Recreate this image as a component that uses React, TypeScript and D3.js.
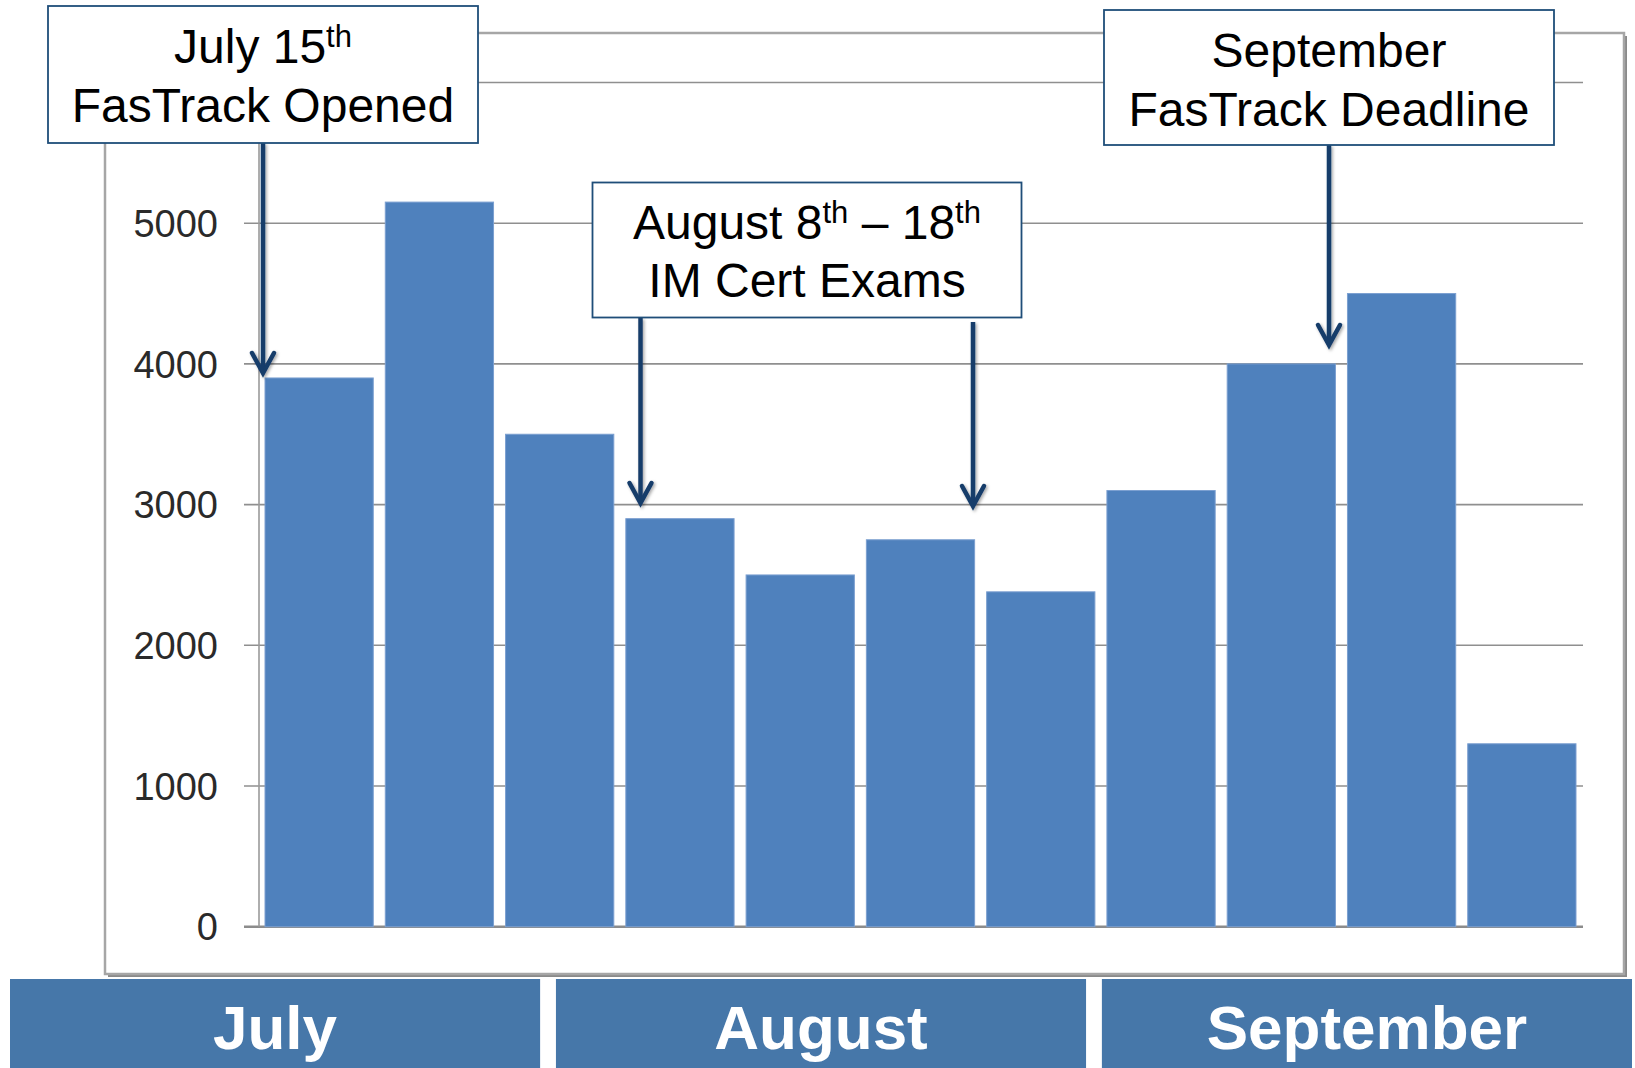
import React, { useEffect, useRef } from "react";
import * as d3 from "d3";

// weekly counts
const weeks = ["Jul 1", "Jul 2", "Jul 3", "Aug 1", "Aug 2", "Aug 3", "Aug 4", "Sep 1", "Sep 2", "Sep 3", "Sep 4"];
const counts = [3900, 5150, 3500, 2900, 2500, 2750, 2380, 3100, 4000, 4500, 1300];
const gridTicks = [0, 1000, 2000, 3000, 4000, 5000, 6000];
const labelTicks = [0, 1000, 2000, 3000, 4000, 5000]; // 6000 sits under the July box
const months = ["July", "August", "September"];

const W = 1635;
const H = 1068;
const FONT = "'Liberation Sans', Arial, sans-serif";

export default function App() {
  const ref = useRef<SVGSVGElement>(null);

  useEffect(() => {
    const svg = d3.select(ref.current);
    svg.selectAll("*").remove();

    const x = d3.scaleBand().domain(weeks).range([259, 1582]).paddingInner(0.1).paddingOuter(0.05);
    const y = d3.scaleLinear().domain([0, 6000]).range([926.7, 82.5]);

    const defs = svg.append("defs");
    const f = defs.append("filter").attr("id", "shadow").attr("x", "-50%").attr("y", "-10%").attr("width", "200%").attr("height", "120%");
    f.append("feDropShadow").attr("dx", 1.5).attr("dy", 1.5).attr("stdDeviation", 1.5).attr("flood-color", "#000").attr("flood-opacity", 0.35);

    svg.append("rect").attr("width", W).attr("height", H).attr("fill", "#fff");

    // chart frame with shadow
    svg.append("rect").attr("x", 108).attr("y", 36).attr("width", 1519).attr("height", 941).attr("fill", "#8a8a8a");
    svg.append("rect").attr("x", 105).attr("y", 33).attr("width", 1519).attr("height", 941)
      .attr("fill", "#fff").attr("stroke", "#a6a6a6").attr("stroke-width", 2.5);

    // gridlines + ticks
    const grid = svg.append("g");
    grid.selectAll("line").data(gridTicks).join("line")
      .attr("x1", 244).attr("x2", 1583)
      .attr("y1", d => y(d)).attr("y2", d => y(d))
      .attr("stroke", d => (d === 0 ? "#8c8c8c" : "#8f8f8f"))
      .attr("stroke-width", d => (d === 0 ? 2.5 : 1.6));

    grid.append("line").attr("x1", 259).attr("x2", 259).attr("y1", y(6000)).attr("y2", y(0))
      .attr("stroke", "#9a9a9a").attr("stroke-width", 1.6);

    grid.selectAll("text").data(labelTicks).join("text")
      .attr("x", 218).attr("y", d => y(d)).attr("dy", "0.36em")
      .attr("text-anchor", "end")
      .style("font-family", FONT)
      .style("font-size", "38px").attr("fill", "#2a2a2a")
      .text(d => d);

    // bars
    svg.append("g").selectAll("rect").data(counts).join("rect")
      .attr("x", (d, i) => x(weeks[i]) as number)
      .attr("y", d => y(d))
      .attr("width", x.bandwidth())
      .attr("height", d => y(0) - y(d))
      .attr("fill", "#4f81bd")
      .attr("stroke", "#7b9fd0").attr("stroke-width", 1);

    // arrows
    const arrows = [
      { x: 263, y1: 143, y2: 373 },
      { x: 640.5, y1: 318, y2: 503 },
      { x: 973, y1: 322, y2: 506 },
      { x: 1329, y1: 145, y2: 345 },
    ];
    const ag = svg.append("g").attr("filter", "url(#shadow)")
      .attr("stroke", "#173c6b").attr("stroke-width", 4.5).attr("fill", "none");
    arrows.forEach(a => {
      ag.append("line").attr("x1", a.x).attr("x2", a.x).attr("y1", a.y1).attr("y2", a.y2 - 2);
      ag.append("path")
        .attr("d", `M${a.x - 11},${a.y2 - 20} L${a.x},${a.y2} L${a.x + 11},${a.y2 - 20}`)
        .attr("stroke-linecap", "round").attr("stroke-linejoin", "miter");
    });

    // annotation boxes
    const boxes = [
      { x: 48, y: 6, w: 430, h: 137, l1: [["July 15", 0], ["th", 1]], b1: 63, l2: "FasTrack Opened", b2: 122 },
      { x: 592.5, y: 182.5, w: 429, h: 135, l1: [["August 8", 0], ["th", 1], [" \u2013 18", 0], ["th", 1]], b1: 239, l2: "IM Cert Exams", b2: 297 },
      { x: 1104, y: 10, w: 450, h: 135, l1: [["September", 0]], b1: 67, l2: "FasTrack Deadline", b2: 126 },
    ];
    boxes.forEach(b => {
      const g = svg.append("g");
      g.append("rect").attr("x", b.x).attr("y", b.y).attr("width", b.w).attr("height", b.h)
        .attr("fill", "#fff").attr("stroke", "#1f4e79").attr("stroke-width", 1.8);
      const cx = b.x + b.w / 2;
      const t1 = g.append("text").attr("x", cx).attr("y", b.b1).attr("text-anchor", "middle")
        .style("font-family", FONT).style("font-size", "48px").attr("fill", "#000");
      let up = false;
      (b.l1 as [string, number][]).forEach(([s, sup]) => {
        const ts = t1.append("tspan").text(s);
        if (sup && !up) { ts.attr("dy", -16).style("font-size", "31px"); up = true; }
        else if (!sup && up) { ts.attr("dy", 16); up = false; }
        else if (sup) ts.style("font-size", "31px");
      });
      g.append("text").attr("x", cx).attr("y", b.b2).attr("text-anchor", "middle")
        .style("font-family", FONT).style("font-size", "48px").attr("fill", "#000")
        .text(b.l2);
    });

    // month bands
    const mx = d3.scaleBand().domain(months).range([10, 1632]).paddingInner(0.029);
    const mg = svg.append("g");
    mg.selectAll("rect").data(months).join("rect")
      .attr("x", d => mx(d) as number).attr("y", 979)
      .attr("width", mx.bandwidth()).attr("height", 89)
      .attr("fill", "#4677a9");
    mg.selectAll("text").data(months).join("text")
      .attr("x", d => (mx(d) as number) + mx.bandwidth() / 2).attr("y", 1049)
      .attr("text-anchor", "middle")
      .style("font-family", FONT)
      .style("font-size", "62px").style("font-weight", "bold").attr("fill", "#fff")
      .text(d => d);
  }, []);

  return (
    <svg ref={ref} width={W} height={H} style={{ position: "absolute", left: 0, top: 0 }}></svg>
  );
}
